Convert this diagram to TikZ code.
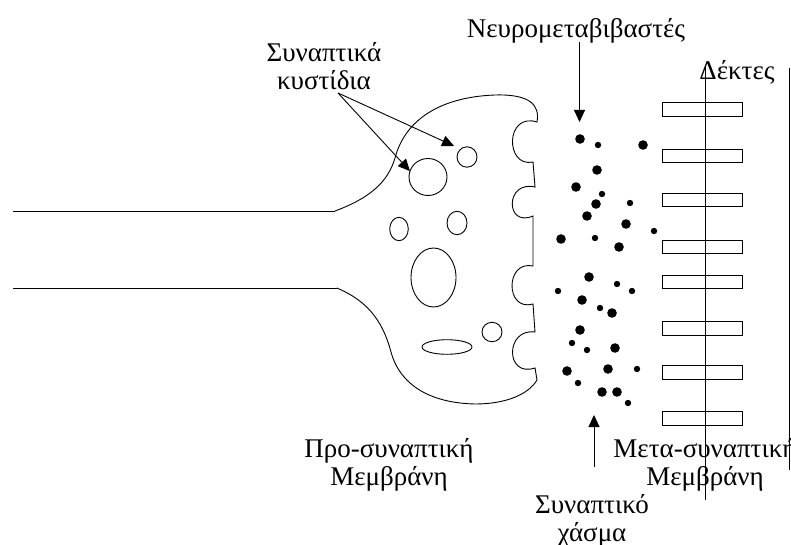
\documentclass[tikz,border=0pt]{standalone}
\usepackage{fontspec}
\setmainfont{Liberation Serif}
\usetikzlibrary{shapes.geometric,arrows.meta}

\begin{document}
\begin{tikzpicture}[x=1pt,y=-1pt,
  thin line/.style={line width=0.9pt},
  vesicle/.style={draw, ellipse, thin line, inner sep=0pt, outer sep=0pt},
  receptor/.style={draw, rectangle, thin line, minimum width=80pt, minimum height=13.5pt, inner sep=0pt},
  bigdot/.style={fill, circle, inner sep=0pt, minimum size=9.6pt},
  smalldot/.style={fill, circle, inner sep=0pt, minimum size=6.4pt},
  lbl/.style={font=\fontsize{27}{28}\selectfont, align=center, inner sep=0pt},
  arr/.style={thin line, -{Triangle[length=12pt,width=11pt]}}
]
\useasboundingbox (0,0) rectangle (791,545);

% axon
\draw[thin line] (13,211) -- (335,211);
\draw[thin line] (13,288) -- (337,288);

% presynaptic terminal with its membrane pockets
\draw[thin line] (335,211) .. controls (370,198) and (388,182) .. (395,158)
  .. controls (405,120) and (440,97) .. (495,95)
  .. controls (530,94) and (540,105) .. (537,122)
  .. controls (505,112) and (505,168) .. (533,162)
  -- (535,187)
  .. controls (505,180) and (505,228) .. (533,216)
  -- (533,266)
  .. controls (505,260) and (505,312) .. (533,304)
  -- (535,332)
  .. controls (505,328) and (505,378) .. (535,368)
  -- (537,380)
  .. controls (528,395) and (505,404) .. (475,404)
  .. controls (430,403) and (400,385) .. (391,352)
  .. controls (382,318) and (365,300) .. (337,288);

% synaptic vesicles
\node[vesicle, minimum width=38pt, minimum height=37pt] (v1) at (428,177) {};
\node[vesicle, minimum width=20pt, minimum height=20.4pt] (v2) at (467,157) {};
\node[vesicle, minimum width=18.6pt, minimum height=23.4pt] (v3) at (399,229) {};
\node[vesicle, minimum width=20pt, minimum height=23.4pt] (v4) at (457,223) {};
\node[vesicle, minimum width=45pt, minimum height=59pt] (v5) at (433.5,277.5) {};
\node[vesicle, minimum width=20pt, minimum height=19.4pt] (v6) at (492,332) {};
\node[vesicle, minimum width=50pt, minimum height=14.6pt] (v7) at (447,347) {};

% neurotransmitter molecules
\foreach \px/\py in {580/139, 643/145, 597/170, 576/187, 596/204, 587/216, 626/224,
    561/239, 619/247, 589/277, 582/300, 612/313, 580/330, 615/348, 567/371,
    608/369, 602/392, 617/392}
  \node[bigdot] at (\px,\py) {};
\foreach \px/\py in {598/145, 602/194, 630/203, 654/231, 595/238, 617/284,
    558/291, 632/291, 600/308, 572/343, 587/350, 637/369, 578/383, 628/403}
  \node[smalldot] at (\px,\py) {};

% receptors on the postsynaptic side
\foreach \ry [count=\i] in {109.3, 155.8, 199.8, 246.7, 281.7, 328.3, 372.3, 418.3}
  \node[receptor] (r\i) at (702.7,\ry) {};

% postsynaptic membrane lines
\coordinate (mtop) at (705.7,65);
\coordinate (mbot) at (705.7,500);
\draw[thin line] (mtop) -- (mbot);
\coordinate (etop) at (789.5,68);
\coordinate (ebot) at (789.5,470);
\draw[thin line] (etop) -- (ebot);

% labels (base anchor sits on the last line)
\node[lbl, anchor=base] (lves) at (324,90) {Συναπτικά\\κυστίδια};
\node[lbl, anchor=base] (lnt) at (576,38) {Νευρομεταβιβαστές};
\node[lbl, anchor=base] (lrec) at (737,80) {Δέκτες};
\node[lbl, anchor=base] (lpre) at (389,485) {Προ-συναπτική\\Μεμβράνη};
\node[lbl, anchor=base] (lcleft) at (592,541) {Συναπτικό\\χάσμα};
\node[lbl, anchor=base] (lpost) at (705,485) {Μετα-συναπτική\\Μεμβράνη};

% pointers
\coordinate (vsrc) at (338,93);
\coordinate (v2tip) at (454,146);
\draw[arr] (vsrc) -- (v2tip);
\draw[arr] (vsrc) -- (v1.162);
\coordinate (nttip) at (579.5,122);
\coordinate (nttail) at (579.5,42);
\draw[arr] (nttail) -- (nttip);
\coordinate (cltail) at (594,467);
\coordinate (cltip) at (594,415);
\draw[arr] (cltail) -- (cltip);
\end{tikzpicture}
\end{document}
